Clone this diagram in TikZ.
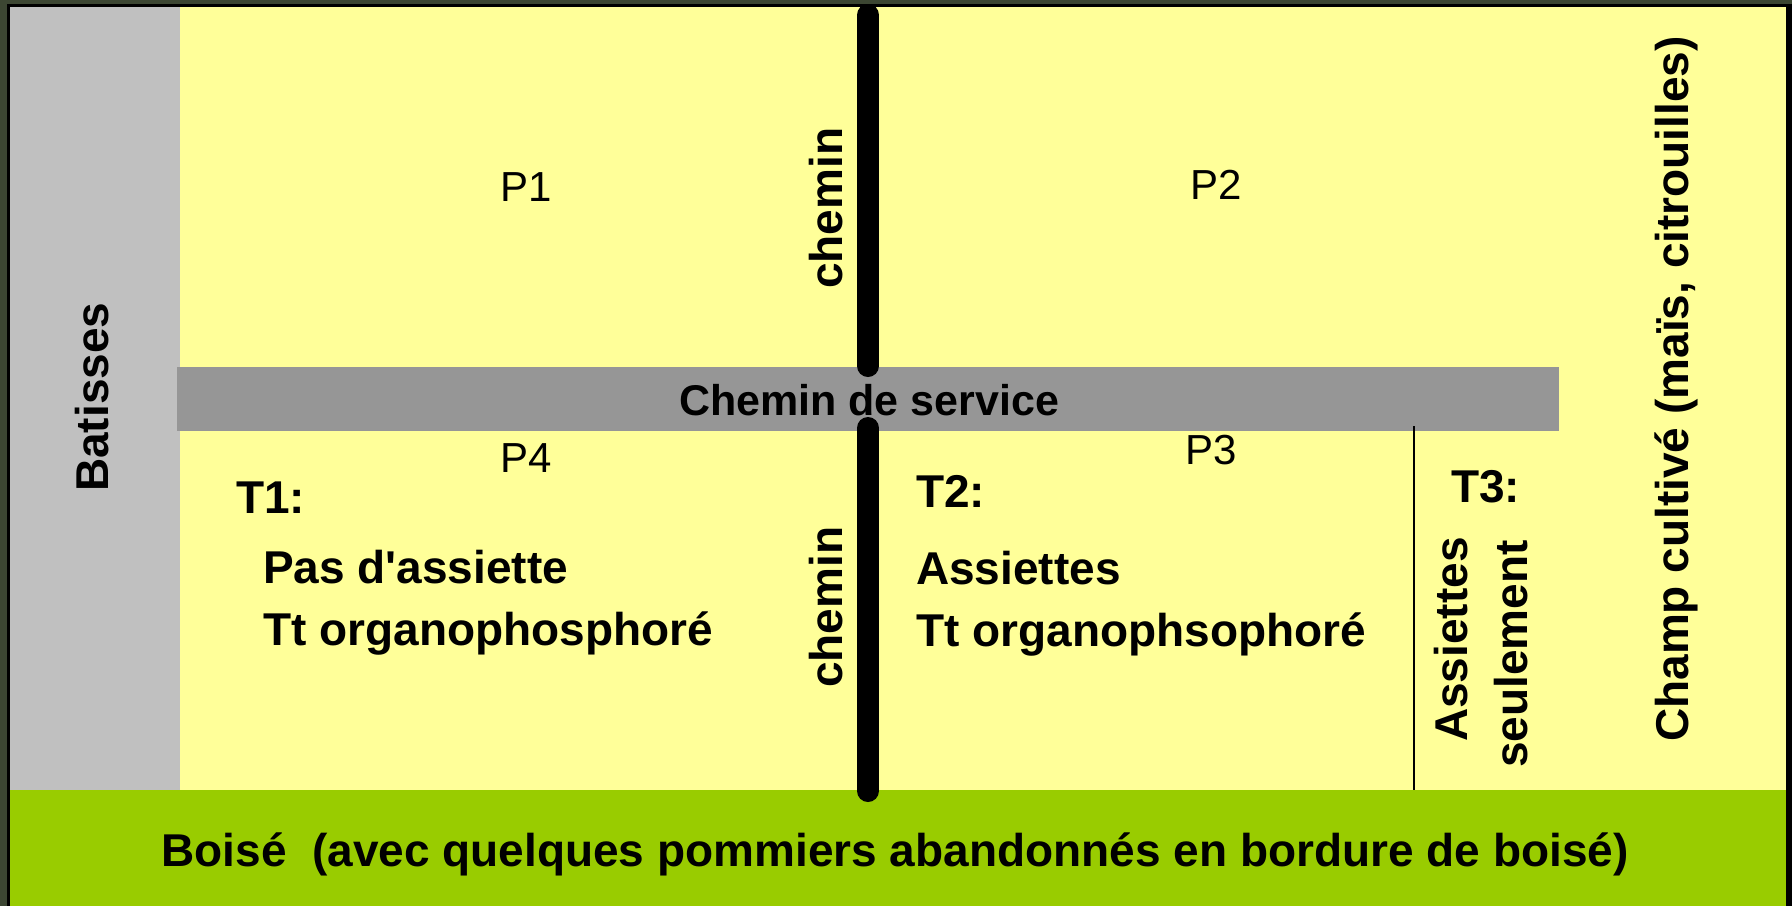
\documentclass[tikz,border=0pt]{standalone}
\usepackage{fontspec}
\setmainfont{Liberation Sans}[Ligatures=TeXOff]
\definecolor{champ}{HTML}{FFFF99}
\definecolor{bati}{HTML}{C0C0C0}
\definecolor{bande}{HTML}{969696}
\definecolor{bois}{HTML}{99CC00}
\definecolor{photo}{RGB}{60,70,50}
\begin{document}
\begin{tikzpicture}[x=1pt,y=-1pt,
  lbl/.style={font=\bfseries\fontsize{46}{50}\selectfont, inner sep=0pt},
  svc/.style={font=\bfseries\fontsize{43}{47}\selectfont, inner sep=0pt},
  plbl/.style={font=\fontsize{42}{46}\selectfont, inner sep=0pt},
  road/.style={line width=22pt, line cap=round, black},
  sep/.style={line width=2.5pt, black}]
\useasboundingbox (0,0) rectangle (1792,906);
\fill[photo] (0,0) rectangle (1792,906);
\fill[black] (7,4) rectangle (1792,906);
\fill[champ] (10,7) rectangle (1786,790);
\fill[bati] (10,7) rectangle (180,790);
\fill[bois] (10,790) rectangle (1786,906);
\fill[bande] (177,367) rectangle (1559,431);
% roads
\coordinate (r1a) at (868,15);
\coordinate (r1b) at (868,366);
\coordinate (r2a) at (868,428);
\coordinate (r2b) at (868,791);
\draw[road] (r1a) -- (r1b);
\draw[road] (r2a) -- (r2b);
\coordinate (s1) at (1414,426);
\coordinate (s2) at (1414,790);
\draw[sep] (s1) -- (s2);
% labels
\node[svc, anchor=base] (svc) at (869,415) {Chemin de service};
\node[lbl, rotate=90, anchor=base west] (bat) at (108,492) {Batisses};
\node[plbl, anchor=base] (p1) at (526,201) {P1};
\node[plbl, anchor=base] (p2) at (1216,199) {P2};
\node[plbl, anchor=base] (p4) at (526,472) {P4};
\node[plbl, anchor=base] (p3) at (1211,464) {P3};
\node[lbl, rotate=90, anchor=base west] (ch1) at (842,289) {chemin};
\node[lbl, rotate=90, anchor=base west] (ch2) at (842,688) {chemin};
\node[lbl, anchor=base west] (t1) at (236,513) {T1:};
\node[lbl, anchor=base west] (t1a) at (263,583) {Pas d'assiette};
\node[lbl, anchor=base west] (t1b) at (263,645) {Tt organophosphoré};
\node[lbl, anchor=base west] (t2) at (916,507) {T2:};
\node[lbl, anchor=base west] (t2a) at (916,584) {Assiettes};
\node[lbl, anchor=base west] (t2b) at (916,646) {Tt organophsophoré};
\node[lbl, anchor=base west] (t3) at (1451,502) {T3:};
\node[lbl, rotate=90, anchor=base west] (t3a) at (1467,742) {Assiettes};
\node[lbl, rotate=90, anchor=base west] (t3b) at (1527,768) {seulement};
\node[lbl, rotate=90, anchor=base west] (champ) at (1688,742) {Champ cultivé (maïs, citrouilles)};
\node[lbl, anchor=base] (bois) at (895,866) {Boisé\ \ (avec quelques pommiers abandonnés en bordure de boisé)};
\end{tikzpicture}
\end{document}
